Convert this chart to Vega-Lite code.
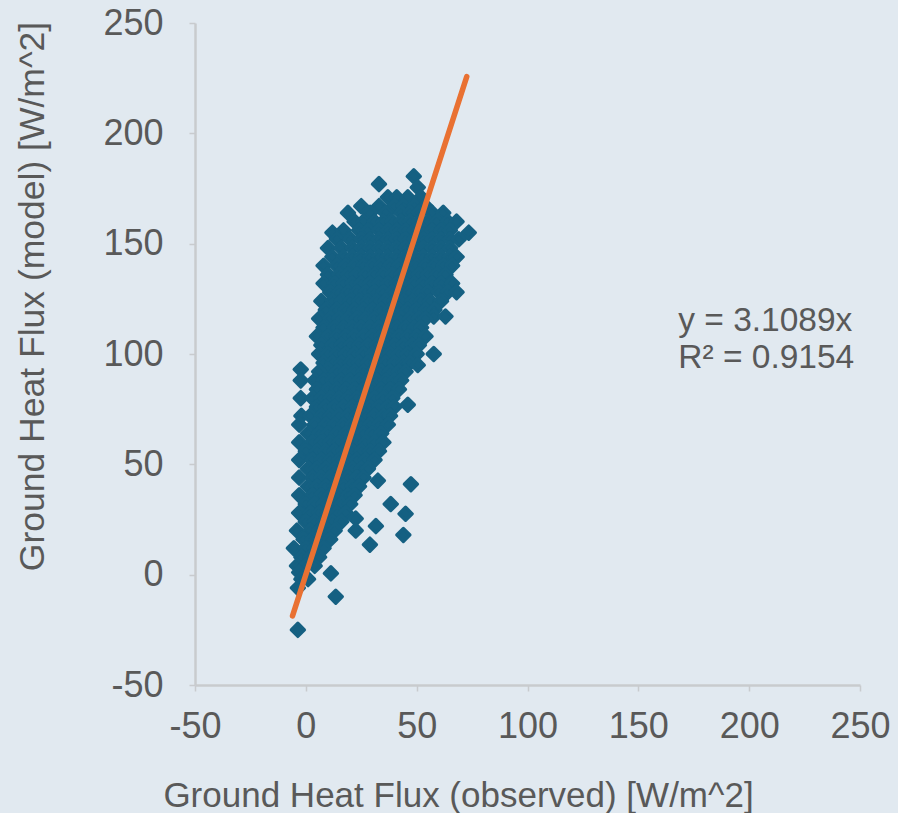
{
"$schema":"https://vega.github.io/schema/vega-lite/v6.json",
"width":665,"height":662,
"autosize":{"type":"none"},
"padding":{"left":195,"top":23,"right":38,"bottom":128},
"background":"#e1e9f0",
"config":{"view":{"stroke":null},"font":"Liberation Sans"},
"datasets":{
"pts":[
{"x":48.7,"y":180.5},{"x":33,"y":177},{"x":50.5,"y":175.5},
{"x":37,"y":171},{"x":41,"y":171},{"x":46,"y":171},{"x":52,"y":171},
{"x":25,"y":167},{"x":33,"y":167},{"x":40,"y":167},{"x":44,"y":167},{"x":49,"y":167},{"x":54,"y":167},
{"x":19,"y":164},{"x":29,"y":164},{"x":36,"y":164},{"x":43,"y":164},{"x":47,"y":164},{"x":51,"y":164},{"x":57,"y":164},{"x":62,"y":164},
{"x":22,"y":160},{"x":26,"y":160},{"x":31,"y":160},{"x":35,"y":160},{"x":39,"y":160},{"x":43,"y":160},{"x":47,"y":160},{"x":51,"y":160},{"x":55,"y":160},{"x":59,"y":160},{"x":64,"y":160},{"x":68,"y":160},
{"x":17,"y":156},{"x":24,"y":156},{"x":28,"y":156},{"x":33,"y":156},{"x":37,"y":156},{"x":41,"y":156},{"x":45,"y":156},{"x":49,"y":156},{"x":53,"y":156},{"x":57,"y":156},{"x":61,"y":156},{"x":65,"y":156},
{"x":12,"y":155},{"x":73.5,"y":155},
{"x":14,"y":152},{"x":20,"y":152},{"x":25,"y":152},{"x":29,"y":152},{"x":33,"y":152},{"x":37,"y":152},{"x":41,"y":152},{"x":45,"y":152},{"x":49,"y":152},{"x":53,"y":152},{"x":57,"y":152},{"x":61,"y":152},{"x":65,"y":152},{"x":69,"y":152},
{"x":10,"y":148},{"x":16,"y":148},{"x":21,"y":148},{"x":25,"y":148},{"x":29,"y":148},{"x":33,"y":148},{"x":37,"y":148},{"x":41,"y":148},{"x":45,"y":148},{"x":49,"y":148},{"x":53,"y":148},{"x":57,"y":148},{"x":61,"y":148},{"x":65,"y":148},
{"x":12,"y":144},{"x":17,"y":144},{"x":21,"y":144},{"x":25,"y":144},{"x":29,"y":144},{"x":33,"y":144},{"x":37,"y":144},{"x":41,"y":144},{"x":45,"y":144},{"x":49,"y":144},{"x":53,"y":144},{"x":57,"y":144},{"x":61,"y":144},{"x":65,"y":144},{"x":68,"y":144},
{"x":8,"y":140},{"x":14,"y":140},{"x":18,"y":140},{"x":22,"y":140},{"x":26,"y":140},{"x":30,"y":140},{"x":34,"y":140},{"x":38,"y":140},{"x":42,"y":140},{"x":46,"y":140},{"x":50,"y":140},{"x":54,"y":140},{"x":58,"y":140},{"x":62,"y":140},{"x":66,"y":140},
{"x":10,"y":136},{"x":15,"y":136},{"x":19,"y":136},{"x":23,"y":136},{"x":27,"y":136},{"x":31,"y":136},{"x":35,"y":136},{"x":39,"y":136},{"x":43,"y":136},{"x":47,"y":136},{"x":51,"y":136},{"x":55,"y":136},{"x":59,"y":136},{"x":63,"y":136},
{"x":8,"y":132},{"x":13,"y":132},{"x":17,"y":132},{"x":21,"y":132},{"x":25,"y":132},{"x":29,"y":132},{"x":33,"y":132},{"x":37,"y":132},{"x":41,"y":132},{"x":45,"y":132},{"x":49,"y":132},{"x":53,"y":132},{"x":57,"y":132},{"x":61,"y":132},{"x":66,"y":132},
{"x":11,"y":128},{"x":15,"y":128},{"x":19,"y":128},{"x":23,"y":128},{"x":27,"y":128},{"x":31,"y":128},{"x":35,"y":128},{"x":39,"y":128},{"x":43,"y":128},{"x":47,"y":128},{"x":51,"y":128},{"x":55,"y":128},{"x":60,"y":128},{"x":64,"y":128},{"x":68,"y":128},
{"x":7,"y":124},{"x":12,"y":124},{"x":16,"y":124},{"x":20,"y":124},{"x":24,"y":124},{"x":28,"y":124},{"x":32,"y":124},{"x":36,"y":124},{"x":40,"y":124},{"x":44,"y":124},{"x":48,"y":124},{"x":52,"y":124},{"x":56,"y":124},{"x":61,"y":124},
{"x":9,"y":120},{"x":14,"y":120},{"x":18,"y":120},{"x":22,"y":120},{"x":26,"y":120},{"x":30,"y":120},{"x":34,"y":120},{"x":38,"y":120},{"x":42,"y":120},{"x":46,"y":120},{"x":50,"y":120},{"x":54,"y":120},{"x":58,"y":120},
{"x":57.7,"y":117},{"x":63,"y":117},
{"x":6,"y":116},{"x":11,"y":116},{"x":15,"y":116},{"x":19,"y":116},{"x":23,"y":116},{"x":27,"y":116},{"x":31,"y":116},{"x":35,"y":116},{"x":39,"y":116},{"x":43,"y":116},{"x":47,"y":116},{"x":51,"y":116},{"x":54,"y":116},
{"x":8,"y":112},{"x":13,"y":112},{"x":17,"y":112},{"x":21,"y":112},{"x":25,"y":112},{"x":29,"y":112},{"x":33,"y":112},{"x":37,"y":112},{"x":41,"y":112},{"x":45,"y":112},{"x":49,"y":112},{"x":52,"y":112},
{"x":5,"y":108},{"x":10,"y":108},{"x":14,"y":108},{"x":18,"y":108},{"x":22,"y":108},{"x":26,"y":108},{"x":30,"y":108},{"x":34,"y":108},{"x":38,"y":108},{"x":42,"y":108},{"x":46,"y":108},{"x":50,"y":108},{"x":54,"y":108},
{"x":7,"y":104},{"x":12,"y":104},{"x":16,"y":104},{"x":20,"y":104},{"x":24,"y":104},{"x":28,"y":104},{"x":32,"y":104},{"x":36,"y":104},{"x":40,"y":104},{"x":44,"y":104},{"x":48,"y":104},{"x":51,"y":104},
{"x":6,"y":100},{"x":10,"y":100},{"x":14,"y":100},{"x":18,"y":100},{"x":22,"y":100},{"x":26,"y":100},{"x":30,"y":100},{"x":34,"y":100},{"x":38,"y":100},{"x":42,"y":100},{"x":46,"y":100},{"x":50,"y":100},{"x":57.7,"y":100},
{"x":8,"y":96},{"x":12,"y":96},{"x":16,"y":96},{"x":20,"y":96},{"x":24,"y":96},{"x":28,"y":96},{"x":32,"y":96},{"x":36,"y":96},{"x":40,"y":96},{"x":44,"y":96},{"x":47,"y":96},
{"x":50.5,"y":95},{"x":-2.3,"y":93},{"x":10,"y":93},
{"x":6,"y":92},{"x":14,"y":92},{"x":18,"y":92},{"x":22,"y":92},{"x":26,"y":92},{"x":30,"y":92},{"x":34,"y":92},{"x":38,"y":92},{"x":42,"y":92},{"x":45,"y":92},
{"x":-2.3,"y":88},{"x":4,"y":88},{"x":8,"y":88},{"x":12,"y":88},{"x":16,"y":88},{"x":20,"y":88},{"x":24,"y":88},{"x":28,"y":88},{"x":32,"y":88},{"x":36,"y":88},{"x":40,"y":88},{"x":43,"y":88},
{"x":5,"y":84},{"x":10,"y":84},{"x":14,"y":84},{"x":18,"y":84},{"x":22,"y":84},{"x":26,"y":84},{"x":30,"y":84},{"x":34,"y":84},{"x":38,"y":84},{"x":42,"y":84},
{"x":-2.3,"y":80},{"x":3,"y":80},{"x":7,"y":80},{"x":11,"y":80},{"x":15,"y":80},{"x":19,"y":80},{"x":23,"y":80},{"x":27,"y":80},{"x":31,"y":80},{"x":35,"y":80},{"x":39,"y":80},
{"x":46,"y":77},
{"x":5,"y":76},{"x":9,"y":76},{"x":13,"y":76},{"x":17,"y":76},{"x":21,"y":76},{"x":25,"y":76},{"x":29,"y":76},{"x":33,"y":76},{"x":37,"y":76},{"x":40,"y":76},
{"x":-2,"y":72},{"x":2,"y":72},{"x":7,"y":72},{"x":11,"y":72},{"x":15,"y":72},{"x":19,"y":72},{"x":23,"y":72},{"x":27,"y":72},{"x":31,"y":72},{"x":35,"y":72},{"x":38,"y":72},
{"x":-3,"y":68},{"x":4,"y":68},{"x":9,"y":68},{"x":13,"y":68},{"x":17,"y":68},{"x":21,"y":68},{"x":25,"y":68},{"x":29,"y":68},{"x":33,"y":68},{"x":37,"y":68},
{"x":1,"y":64},{"x":6,"y":64},{"x":10,"y":64},{"x":14,"y":64},{"x":18,"y":64},{"x":22,"y":64},{"x":26,"y":64},{"x":30,"y":64},{"x":34,"y":64},
{"x":-3,"y":60},{"x":3,"y":60},{"x":7,"y":60},{"x":11,"y":60},{"x":15,"y":60},{"x":19,"y":60},{"x":23,"y":60},{"x":27,"y":60},{"x":31,"y":60},{"x":35,"y":60},
{"x":0,"y":56},{"x":5,"y":56},{"x":9,"y":56},{"x":13,"y":56},{"x":17,"y":56},{"x":21,"y":56},{"x":25,"y":56},{"x":29,"y":56},{"x":33,"y":56},
{"x":-3,"y":52},{"x":3,"y":52},{"x":7,"y":52},{"x":11,"y":52},{"x":15,"y":52},{"x":19,"y":52},{"x":23,"y":52},{"x":27,"y":52},{"x":31,"y":52},
{"x":1,"y":48},{"x":5,"y":48},{"x":9,"y":48},{"x":13,"y":48},{"x":17,"y":48},{"x":21,"y":48},{"x":25,"y":48},{"x":28,"y":48},
{"x":-3,"y":44},{"x":3,"y":44},{"x":7,"y":44},{"x":11,"y":44},{"x":15,"y":44},{"x":19,"y":44},{"x":23,"y":44},{"x":26,"y":44},
{"x":32.5,"y":42.6},{"x":47.4,"y":41},
{"x":1,"y":40},{"x":5,"y":40},{"x":9,"y":40},{"x":13,"y":40},{"x":17,"y":40},{"x":21,"y":40},{"x":24,"y":40},
{"x":-3,"y":36},{"x":3,"y":36},{"x":7,"y":36},{"x":11,"y":36},{"x":15,"y":36},{"x":19,"y":36},{"x":22,"y":36},
{"x":0,"y":32},{"x":4,"y":32},{"x":8,"y":32},{"x":12,"y":32},{"x":16,"y":32},{"x":20,"y":32},{"x":38.3,"y":32},
{"x":-3,"y":28},{"x":2,"y":28},{"x":6,"y":28},{"x":10,"y":28},{"x":14,"y":28},{"x":18,"y":28},{"x":45,"y":27.6},
{"x":22.5,"y":25.4},
{"x":0,"y":24},{"x":4,"y":24},{"x":8,"y":24},{"x":12,"y":24},{"x":16,"y":24},
{"x":31.6,"y":22},
{"x":-4,"y":20},{"x":2,"y":20},{"x":6,"y":20},{"x":10,"y":20},{"x":13,"y":20},{"x":22.5,"y":20},
{"x":44,"y":18},
{"x":-1,"y":16},{"x":3,"y":16},{"x":7,"y":16},{"x":11,"y":16},
{"x":28.9,"y":13.6},
{"x":-5.4,"y":12},{"x":0,"y":12},{"x":4,"y":12},{"x":8,"y":12},
{"x":-2,"y":8},{"x":2,"y":8},{"x":6,"y":8},
{"x":-4,"y":4},{"x":0,"y":4},{"x":4,"y":4},
{"x":-3,"y":1},{"x":11.3,"y":0.6},
{"x":-2,"y":-2},{"x":1,"y":-2},
{"x":-3.6,"y":-6},{"x":13.5,"y":-10},{"x":-3.6,"y":-25}
],
"trend":[{"x":-6,"y":-18.65},{"x":72.6,"y":225.7}],
"ann":[{"label":"y = 3.1089x","x":168,"y":115},{"label":"R² = 0.9154","x":168,"y":98}]
},
"layer":[
{"data":{"name":"pts"},
"mark":{"type":"point","shape":"diamond","filled":true,"size":175,"color":"#156082","stroke":"#156082","strokeWidth":3.2,"strokeJoin":"round","opacity":1,"fillOpacity":1,"strokeOpacity":1},
"encoding":{
"x":{"field":"x","type":"quantitative","scale":{"domain":[-50,250],"nice":false,"zero":false},
"axis":{"values":[-50,0,50,100,150,200,250],"labelExpr":"'' + datum.value","labelFlush":false,"labelOverlap":false,"grid":false,"title":"Ground Heat Flux (observed) [W/m^2]",
"domainColor":"#c8cbce","domainWidth":2.5,"tickColor":"#c8cbce","tickSize":6,"tickWidth":1.5,
"labelFontSize":36,"labelColor":"#595959","labelPadding":18,"labelFont":"Liberation Sans",
"titleFontSize":35,"titleFontWeight":"normal","titleColor":"#595959","titleFont":"Liberation Sans",
"titleX":263,"titleY":110,"titleBaseline":"middle","titleAlign":"center"}},
"y":{"field":"y","type":"quantitative","scale":{"domain":[-50,250],"nice":false,"zero":false},
"axis":{"values":[-50,0,50,100,150,200,250],"labelExpr":"'' + datum.value","labelFlush":false,"labelOverlap":false,"grid":false,"title":"Ground Heat Flux (model) [W/m^2]",
"domainColor":"#c8cbce","domainWidth":2.5,"tickColor":"#c8cbce","tickSize":6,"tickWidth":1.5,
"labelFontSize":36,"labelColor":"#595959","labelPadding":26,"labelFont":"Liberation Sans",
"titleFontSize":35.5,"titleFontWeight":"normal","titleColor":"#595959","titleFont":"Liberation Sans",
"titleX":-163,"titleY":273,"titleBaseline":"middle","titleAlign":"center","titleAngle":-90}}
}},
{"data":{"name":"trend"},
"mark":{"type":"line","color":"#e97132","strokeWidth":5.5,"strokeCap":"round"},
"encoding":{"x":{"field":"x","type":"quantitative"},"y":{"field":"y","type":"quantitative"}}},
{"data":{"name":"ann"},
"mark":{"type":"text","align":"left","baseline":"middle","fontSize":33.5,"color":"#595959","font":"Liberation Sans"},
"encoding":{"x":{"field":"x","type":"quantitative"},"y":{"field":"y","type":"quantitative"},"text":{"field":"label"}}}
]
}
